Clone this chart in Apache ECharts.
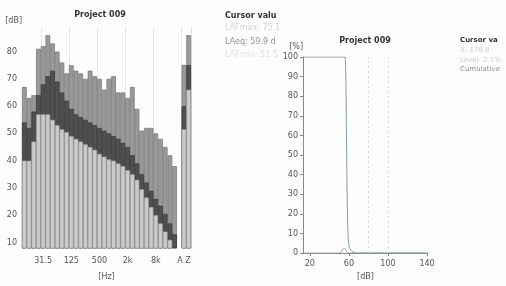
<!DOCTYPE html>
<html>
<head>
<meta charset="utf-8">
<script src="https://cdn.jsdelivr.net/npm/echarts@6/dist/echarts.min.js"></script>
<style>
html, body { margin: 0; padding: 0; background: #fff; }
#main { width: 506px; height: 286px; }
</style>
</head>
<body>
<div id="main"></div>
<script>
// 1/3 octave bands, then a spacer, then the A and Z totals
var bands = ['12.5','16','20','25','31.5','40','50','63','80','100','125','160','200','250','315','400',
    '500','630','800','1k','1.25k','1.6k','2k','2.5k','3.15k','4k','5k','6.3k','8k','10k','12.5k','16k','20k',
    ' ','A','Z'];
var bandTicks = ['31.5','125','500','2k','8k','A'];

// LAFmax, LAeq, LAFmin per band [dB]
var levelMax = [67,63,64,81,82,86,83,80,76,72,75,73,72,70,73,71,70,66,70,71,65,65,63,67,59,51,52,52,50,48,45,42,38, null, 75.1, 86];
var levelEq  = [54,52,58,64,68,71,73,69,65,62,59,57,56,55,54,53,52,51,50,49,48,46.5,45,42,39,35,32,29,26,23.5,20.5,17,13, null, 59.9, 75];
var levelMin = [40,40,47,57,57,57,55,53,51.5,50.5,49,48,47,46,45,44,42.5,41.5,40.5,40,39,38,36.5,35,33,29.5,26.5,23,20,17,14,11,8, null, 51.5, 66];
var dbTicks = [10,20,30,40,50,60,70,80];

// level statistics: cumulative and distribution [%] over level [dB]
var cumDb  = [13, 56, 56.5, 57, 57.5, 58, 58.5, 59, 59.5, 60.5, 62, 64, 67, 141];
var cumPct = [100, 100, 97, 85, 62, 38, 20, 11, 6, 3, 1.5, 0.6, 0, 0];
var distDb  = [13, 50, 52, 53.5, 55, 56.5, 58, 60, 141];
var distPct = [0, 0, 0.5, 2, 2.5, 1.8, 0.6, 0, 0];
var levelTicks = [20, 60, 100, 140];
var gridDb = [80, 100];

function pairs(xs, ys) {
    var out = [];
    for (var i = 0; i < xs.length; i++) out.push([xs[i], ys[i]]);
    return out;
}

var font = 'DejaVu Sans';
var labelStyle = { fontFamily: font, fontSize: 8, color: '#555' };

var myChart = echarts.init(document.getElementById('main'), null, { renderer: 'canvas' });

option = {
    backgroundColor: '#fdfdfd',
    animation: false,
    title: [
        { text: 'Project 009', left: 95, top: 6, textAlign: 'center',
          textStyle: { fontFamily: font, fontSize: 8, fontWeight: 'bold', color: '#333' } },
        { text: 'Project 009', left: 360, top: 32, textAlign: 'center',
          textStyle: { fontFamily: font, fontSize: 8, fontWeight: 'bold', color: '#333' } }
    ],
    grid: [
        { left: 22, top: 27, width: 169, height: 221.5 },
        { left: 303, top: 57, width: 125, height: 198 }
    ],
    xAxis: [
        {
            gridIndex: 0, type: 'category', data: bands,
            name: '[Hz]', nameLocation: 'middle', nameGap: 25,
            nameTextStyle: labelStyle,
            axisLine: { show: false },
            axisTick: { show: false },
            axisLabel: {
                fontFamily: font, fontSize: 8, color: '#555', margin: 9,
                interval: function (i, v) { return bandTicks.indexOf(v) >= 0; },
                // the two totals share one label under their pair of bars
                formatter: function (v) { return v === 'A' ? 'A Z' : v; }
            },
            splitLine: { show: true, interval: function (i, v) { return bandTicks.indexOf(v) >= 0; },
                lineStyle: { color: '#e6e6e6', width: 1 } }
        },
        {
            gridIndex: 1, type: 'value', min: 13, max: 141,
            name: '[dB]', nameLocation: 'middle', nameGap: 19,
            nameTextStyle: labelStyle,
            axisLine: { lineStyle: { color: '#888' } },
            axisTick: { customValues: levelTicks, length: 3, lineStyle: { color: '#888' } },
            axisLabel: Object.assign({ customValues: levelTicks, margin: 7 }, labelStyle),
            splitLine: { show: false }
        }
    ],
    yAxis: [
        {
            gridIndex: 0, type: 'value', min: 8, max: 89,
            name: '[dB]', nameLocation: 'end', nameGap: 2,
            nameTextStyle: Object.assign({ align: 'right' }, labelStyle),
            axisLine: { show: false },
            axisTick: { show: false },
            axisLabel: Object.assign({ customValues: dbTicks, margin: 5 }, labelStyle),
            splitLine: { show: false }
        },
        {
            gridIndex: 1, type: 'value', min: 0, max: 100, interval: 10,
            name: '[%]', nameLocation: 'end', nameGap: 6,
            nameTextStyle: Object.assign({ align: 'right' }, labelStyle),
            axisLine: { show: true, lineStyle: { color: '#888' } },
            axisTick: { show: true, length: 3, lineStyle: { color: '#888' } },
            axisLabel: Object.assign({ margin: 5 }, labelStyle),
            splitLine: { show: false }
        }
    ],
    series: [
        {
            name: 'LAFmax', type: 'bar', xAxisIndex: 0, yAxisIndex: 0,
            data: levelMax, barGap: '-100%', barCategoryGap: '0%',
            itemStyle: { color: '#999', borderColor: '#747474', borderWidth: 0.7 }
        },
        {
            name: 'LAeq', type: 'bar', xAxisIndex: 0, yAxisIndex: 0,
            data: levelEq, barGap: '-100%', barCategoryGap: '0%',
            itemStyle: { color: '#505050', borderColor: '#383838', borderWidth: 0.7 }
        },
        {
            name: 'LAFmin', type: 'bar', xAxisIndex: 0, yAxisIndex: 0,
            data: levelMin, barGap: '-100%', barCategoryGap: '0%',
            itemStyle: { color: '#cbcbcb', borderColor: '#a2a2a2', borderWidth: 0.7 }
        },
        {
            name: 'Distribution', type: 'line', xAxisIndex: 1, yAxisIndex: 1,
            data: pairs(distDb, distPct), symbol: 'none', smooth: 0.3,
            lineStyle: { color: '#9aa2ad', width: 1 },
            markLine: {
                silent: true, symbol: 'none', label: { show: false },
                lineStyle: { color: '#d8d8d8', type: [2, 3], width: 1 },
                data: gridDb.map(function (v) { return { xAxis: v }; })
            }
        },
        {
            name: 'Cumulative', type: 'line', xAxisIndex: 1, yAxisIndex: 1,
            data: pairs(cumDb, cumPct), symbol: 'none', smooth: 0.2,
            lineStyle: { color: '#8396ad', width: 1 }
        }
    ],
    graphic: [
        { type: 'text', left: 225, top: 12, style: { text: 'Cursor valu', font: 'bold 8px "DejaVu Sans"', fill: '#333' } },
        { type: 'text', left: 225, top: 24, style: { text: 'LAFmax: 75.1', font: '8px "DejaVu Sans"', fill: '#cfd5dd' } },
        { type: 'text', left: 225, top: 38, style: { text: 'LAeq: 59.9 d', font: '8px "DejaVu Sans"', fill: '#8c96a4' } },
        { type: 'text', left: 225, top: 51, style: { text: 'LAFmin: 51.5', font: '8px "DejaVu Sans"', fill: '#dde1e7' } },
        { type: 'text', left: 460, top: 37, style: { text: 'Cursor va', font: 'bold 7px "DejaVu Sans"', fill: '#333' } },
        { type: 'text', left: 460, top: 47, style: { text: 'X: 176.8 :', font: '7px "DejaVu Sans"', fill: '#c8ced6' } },
        { type: 'text', left: 460, top: 57, style: { text: 'Level: 2.1%', font: '7px "DejaVu Sans"', fill: '#c8ced6' } },
        { type: 'text', left: 460, top: 66, style: { text: 'Cumulative', font: '7px "DejaVu Sans"', fill: '#888f99' } }
    ]
};

myChart.setOption(option);
</script>
</body>
</html>
